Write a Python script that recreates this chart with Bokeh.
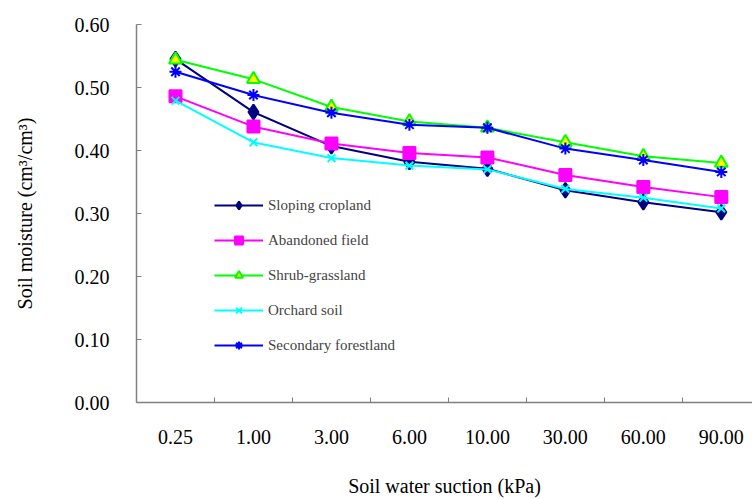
from bokeh.plotting import figure
from bokeh.models import Range1d, FixedTicker, Legend, LegendItem
from bokeh.embed import file_html
from bokeh.resources import INLINE

categories = ["0.25", "1.00", "3.00", "6.00", "10.00", "30.00", "60.00", "90.00"]
sloping = [0.545, 0.461, 0.407, 0.382, 0.371, 0.337, 0.318, 0.302]
abandoned = [0.486, 0.438, 0.411, 0.396, 0.389, 0.361, 0.342, 0.326]
shrub = [0.544, 0.513, 0.469, 0.446, 0.436, 0.413, 0.391, 0.380]
orchard = [0.479, 0.413, 0.388, 0.376, 0.370, 0.339, 0.325, 0.308]
forest = [0.525, 0.488, 0.460, 0.441, 0.436, 0.403, 0.385, 0.366]
y_ticks = [0.0, 0.1, 0.2, 0.3, 0.4, 0.5, 0.6]

xs = list(range(len(categories)))
FONT = "Liberation Serif"

p = figure(width=752, height=499, output_backend="svg", toolbar_location=None,
           x_range=Range1d(-0.5, 7.40), y_range=Range1d(0, 0.6),
           min_border_left=136, min_border_right=0, min_border_top=24, min_border_bottom=10)
p.outline_line_color = None
p.background_fill_color = "white"
p.xgrid.visible = False
p.ygrid.visible = False

# axes
xa = p.xaxis[0]
xa.ticker = FixedTicker(ticks=xs, minor_ticks=[i + 0.5 for i in xs])
xa.major_label_overrides = {i: c for i, c in enumerate(categories)}
xa.major_tick_in = 0
xa.major_tick_out = 0
xa.minor_tick_in = 5
xa.minor_tick_out = 0
xa.minor_tick_line_color = "#808080"
xa.axis_line_color = "#808080"
xa.axis_line_width = 1.5
xa.major_label_text_font = FONT
xa.major_label_text_font_size = "20px"
xa.major_label_text_color = "black"
xa.major_label_standoff = 27
xa.axis_label = "Soil water suction (kPa)"
xa.axis_label_text_font = FONT
xa.axis_label_text_font_size = "20px"
xa.axis_label_text_font_style = "normal"
xa.axis_label_text_color = "black"
xa.axis_label_standoff = 28

ya = p.yaxis[0]
ya.ticker = FixedTicker(ticks=y_ticks, minor_ticks=[])
ya.major_label_overrides = {t: f"{t:.2f}" for t in y_ticks}
ya.major_tick_in = 5
ya.major_tick_out = 0
ya.major_tick_line_color = "#808080"
ya.axis_line_color = "#808080"
ya.axis_line_width = 1.5
ya.major_label_text_font = FONT
ya.major_label_text_font_size = "20px"
ya.major_label_text_color = "black"
ya.major_label_standoff = 27
ya.axis_label = "Soil moisture (cm³/cm³)"
ya.axis_label_text_font = FONT
ya.axis_label_text_font_size = "20px"
ya.axis_label_text_font_style = "normal"
ya.axis_label_text_color = "black"
ya.axis_label_standoff = 36

items = []

def series(label, vals, color, marker, size, fill=None, line_width=2):
    r1 = p.line(xs, vals, line_color=color, line_width=line_width)
    if fill is None:
        fill = color
    r2 = p.scatter(xs, vals, marker=marker, size=size, line_color=color,
                   fill_color=fill, line_width=2)
    items.append(LegendItem(label=label, renderers=[r1, r2]))

series("Sloping cropland", sloping, "#000080", "diamond", 15)
series("Abandoned field", abandoned, "#FF00FF", "square", 12)
series("Shrub-grassland", shrub, "#00FF00", "triangle", 13, fill="#FFFF00")
series("Orchard soil", orchard, "#00FFFF", "x", 11)
series("Secondary forestland", forest, "#0000FF", "asterisk", 12)

legend = Legend(items=items, location=(78, 47), orientation="vertical")
legend.label_text_font = FONT
legend.label_text_font_size = "15px"
legend.label_height = 20
legend.glyph_height = 20
legend.glyph_width = 49
legend.spacing = 15
legend.padding = 0
legend.margin = 0
legend.label_standoff = 5
legend.border_line_color = None
legend.background_fill_alpha = 0
p.add_layout(legend, "center")

open("out.html", "w").write(file_html(p, INLINE))
